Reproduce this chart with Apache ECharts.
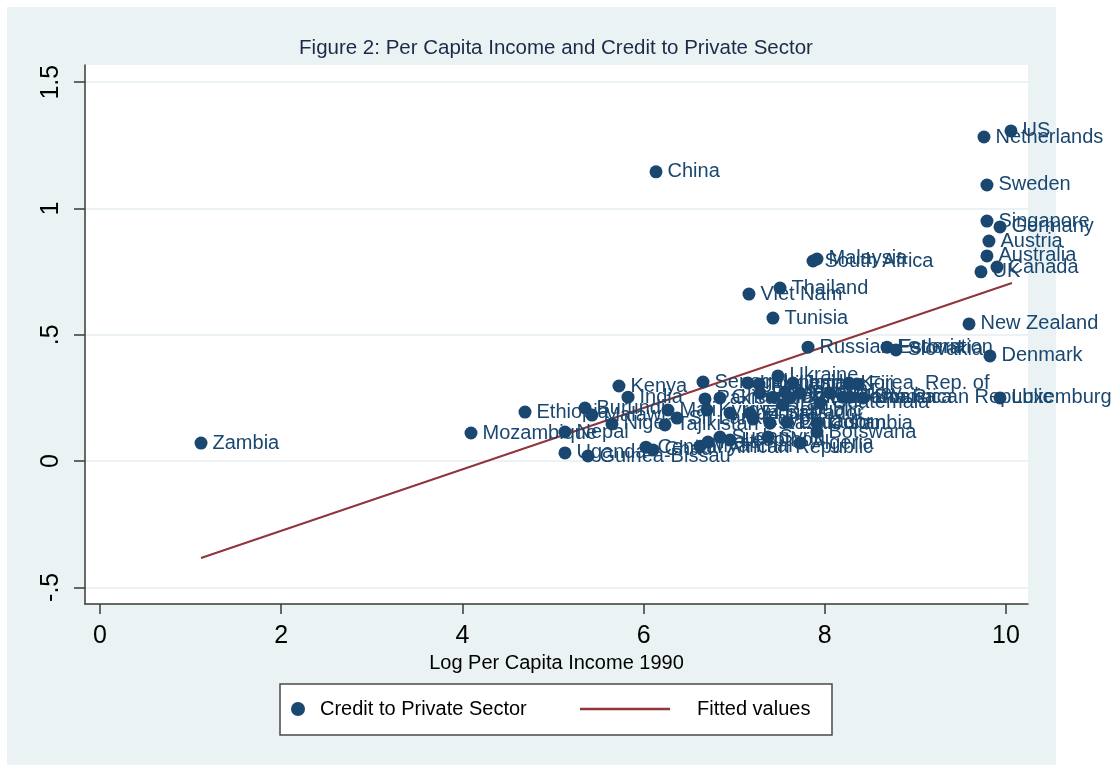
<!DOCTYPE html>
<html>
<head>
<meta charset="utf-8">
<script src="https://cdn.jsdelivr.net/npm/echarts/dist/echarts.min.js"></script>
<style>
  html, body { margin: 0; padding: 0; background: #ffffff; }
  #chart { width: 1117px; height: 765px; }
</style>
</head>
<body>
<div id="chart"></div>
<script>
// countries, log per capita income 1990, credit to private sector
const countries = [
  'Zambia', 'Mozambique', 'Ethiopia', 'Nepal', 'Uganda', 'Burundi', 'Guinea-Bissau', 'Malawi',
  'Niger', 'Kenya', 'India', 'Central African Republic', 'Chad', 'Tajikistan', 'Mali', 'Sri Lanka',
  'Senegal', 'Pakistan', 'Kyrgyz Republic', 'Myanmar', 'Haiti', 'Ghana', 'Sudan', 'Honduras',
  'Lesotho', 'Indonesia', 'Philippines', 'El Salvador', 'Egypt', 'Paraguay', 'Syria', 'Kazakhstan',
  'Morocco', 'Ukraine', 'Iran', 'Mexico', 'Ecuador', 'Bolivia', 'Jordan', 'Peru',
  'Algeria', 'Botswana', 'Colombia', 'Guatemala', 'Turkey', 'Costa Rica', 'Korea, Rep. of', 'Jamaica',
  'Fiji', 'Dominican Republic', 'China', 'Viet Nam', 'Tunisia', 'Thailand', 'Russian Federation', 'South Africa',
  'Malaysia', 'Estonia', 'Slovakia', 'New Zealand', 'UK', 'Netherlands', 'Sweden', 'Singapore',
  'Australia', 'Austria', 'Denmark', 'Canada', 'Germany', 'Luxemburg', 'US'
]
const logIncome = [
  1.115, 4.095, 4.691, 5.132, 5.132, 5.353, 5.386, 5.430,
  5.651, 5.728, 5.828, 6.026, 6.104, 6.236, 6.269, 6.369,
  6.656, 6.678, 6.700, 6.623, 6.711, 6.843, 6.843, 6.954,
  6.954, 7.152, 7.274, 7.174, 7.208, 7.285, 7.373, 7.395,
  7.428, 7.483, 7.539, 7.561, 7.583, 7.616, 7.649, 7.726,
  7.726, 7.914, 7.914, 7.947, 8.057, 8.201, 8.267, 8.278,
  8.355, 8.422, 6.137, 7.163, 7.428, 7.506, 7.815, 7.870,
  7.914, 8.687, 8.786, 9.592, 9.724, 9.757, 9.790, 9.790,
  9.790, 9.812, 9.823, 9.901, 9.934, 9.934, 10.055
]
const creditShare = [
  0.071, 0.111, 0.194, 0.115, 0.032, 0.210, 0.020, 0.182,
  0.147, 0.297, 0.253, 0.055, 0.044, 0.143, 0.202, 0.170,
  0.313, 0.246, 0.202, 0.059, 0.075, 0.250, 0.095, 0.190,
  0.083, 0.309, 0.305, 0.190, 0.166, 0.269, 0.095, 0.150,
  0.253, 0.337, 0.222, 0.273, 0.154, 0.250, 0.309, 0.269,
  0.071, 0.115, 0.150, 0.230, 0.269, 0.253, 0.309, 0.253,
  0.305, 0.250, 1.145, 0.661, 0.566, 0.685, 0.451, 0.792,
  0.800, 0.451, 0.440, 0.543, 0.749, 1.283, 1.093, 0.950,
  0.812, 0.871, 0.416, 0.768, 0.927, 0.250, 1.307
]
// fitted values at the ends of the data range
const fittedX = [1.115, 10.066]
const fittedY = [-0.384, 0.705]

const xTicks = [0, 2, 4, 6, 8, 10]
const yTicks = [-0.5, 0, 0.5, 1, 1.5]

const FONT = "'Liberation Sans', Arial, sans-serif"
const NAVY = '#1a476f'
const MAROON = '#90353b'

const points = countries.map((name, i) => ({ name: name, value: [logIncome[i], creditShare[i]] }))
const fitted = fittedX.map((x, i) => [x, fittedY[i]])

const chart = echarts.init(document.getElementById('chart'))
chart.setOption({
  backgroundColor: '#ffffff',
  animation: false,
  textStyle: { fontFamily: FONT },
  graphic: [
    {
      type: 'rect', z: -10, silent: true,
      shape: { x: 7, y: 7, width: 1049, height: 758 },
      style: { fill: '#eaf2f3' }
    },
    {
      type: 'rect', z: 1, silent: true,
      shape: { x: 280, y: 684, width: 552, height: 51 },
      style: { fill: '#ffffff', stroke: '#4a4a4a', lineWidth: 1.5 }
    }
  ],
  title: {
    text: 'Figure 2: Per Capita Income and Credit to Private Sector',
    left: 556,
    top: 38,
    textAlign: 'center',
    padding: 0,
    textStyle: { fontFamily: FONT, fontSize: 20.5, fontWeight: 'normal', color: '#1c2a48' }
  },
  legend: [
    {
      data: [{ name: 'Credit to Private Sector', icon: 'circle' }],
      left: 291,
      top: 699,
      padding: 0,
      itemWidth: 14,
      itemHeight: 14,
      textStyle: { fontFamily: FONT, fontSize: 20, color: '#000', padding: [0, 0, 0, 10] }
    },
    {
      data: [{ name: 'Fitted values', icon: 'rect' }],
      left: 580,
      top: 699,
      padding: 0,
      itemWidth: 90,
      itemHeight: 2.5,
      textStyle: { fontFamily: FONT, fontSize: 20, color: '#000', padding: [0, 0, 0, 22] }
    }
  ],
  grid: {
    left: 85,
    top: 65,
    width: 943,
    height: 539,
    show: true,
    backgroundColor: '#ffffff',
    borderWidth: 0
  },
  xAxis: {
    type: 'value',
    min: -0.1656,
    max: 10.243,
    name: 'Log Per Capita Income 1990',
    nameLocation: 'middle',
    nameGap: 47,
    nameTextStyle: { fontFamily: FONT, fontSize: 20, color: '#000' },
    axisLine: { onZero: false, lineStyle: { color: '#3a3a3a', width: 1.5 } },
    axisTick: { customValues: xTicks, length: 10, lineStyle: { color: '#3a3a3a', width: 1.5 } },
    axisLabel: { customValues: xTicks, margin: 20, fontSize: 25, color: '#000', fontFamily: FONT },
    splitLine: { show: false }
  },
  yAxis: {
    type: 'value',
    min: -0.566,
    max: 1.568,
    axisLine: { onZero: false, lineStyle: { color: '#3a3a3a', width: 1.5 } },
    axisTick: { customValues: yTicks, length: 11, lineStyle: { color: '#3a3a3a', width: 1.5 } },
    axisLabel: {
      customValues: yTicks,
      rotate: 90,
      margin: 21,
      fontSize: 25,
      color: '#000',
      fontFamily: FONT,
      formatter: v => v === 0 ? '0' : String(v).replace('0.', '.')
    },
    splitLine: { show: true, lineStyle: { color: '#eaf2f3', width: 2 } }
  },
  series: [
    {
      name: 'Credit to Private Sector',
      type: 'scatter',
      data: points,
      symbol: 'circle',
      symbolSize: 13,
      itemStyle: { color: NAVY, opacity: 1 },
      label: {
        show: true,
        position: 'right',
        distance: 5,
        formatter: p => p.name,
        fontFamily: FONT,
        fontSize: 20,
        color: NAVY
      },
      z: 3
    },
    {
      name: 'Fitted values',
      type: 'line',
      data: fitted,
      symbol: 'none',
      lineStyle: { color: MAROON, width: 2 },
      itemStyle: { color: MAROON },
      z: 2
    }
  ]
})
</script>
</body>
</html>
